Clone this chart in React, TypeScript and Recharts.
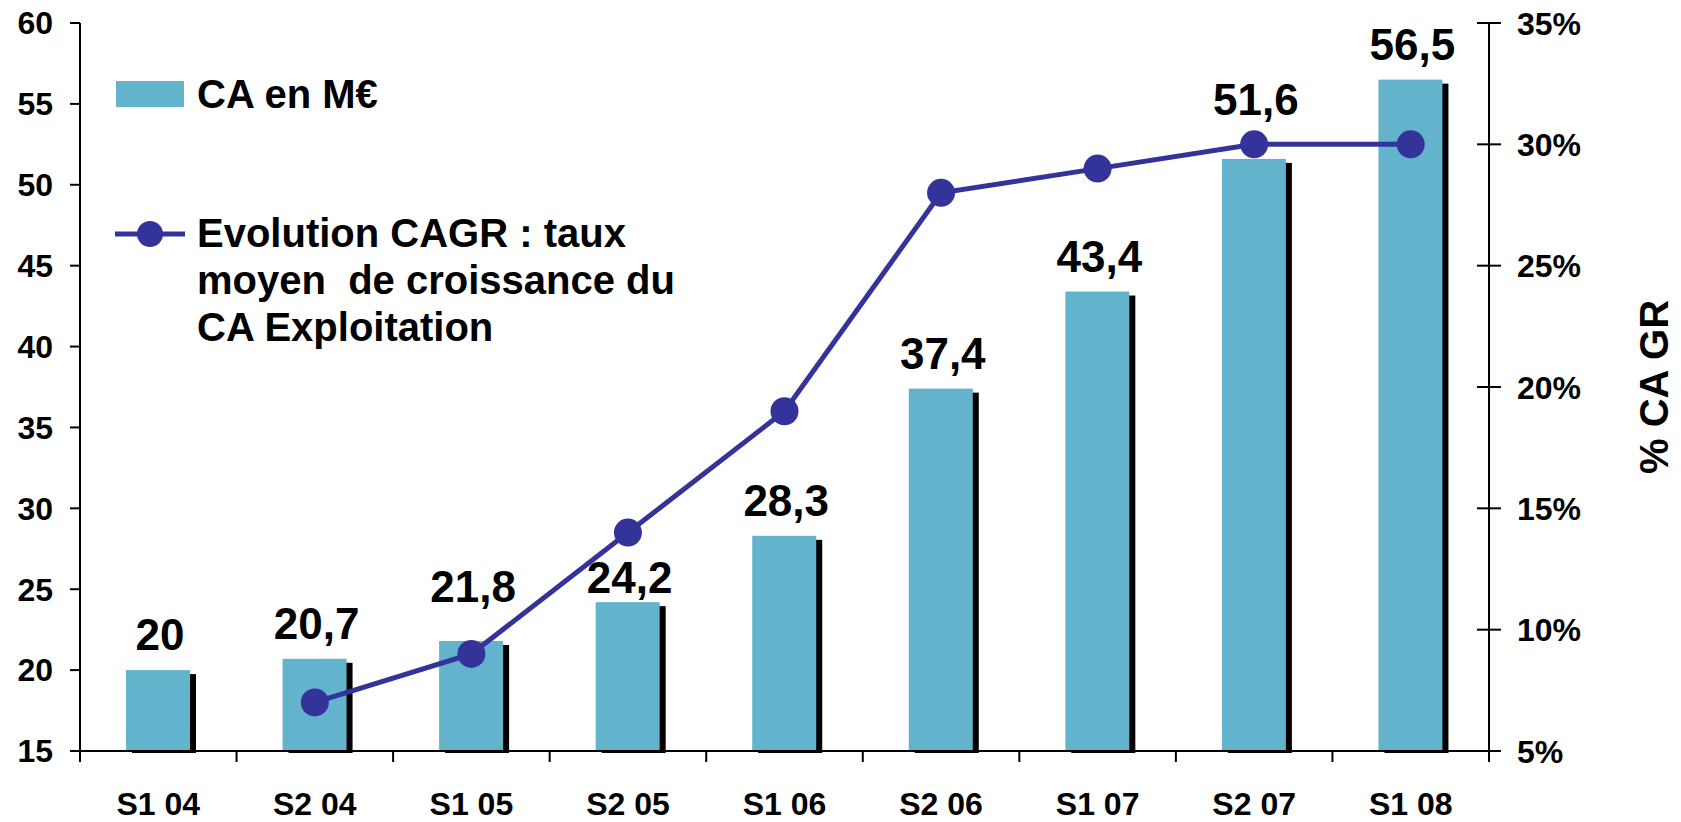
import React from 'react';
import { ComposedChart, Bar, Line, XAxis, YAxis, LabelList, Legend } from 'recharts';

const categories = ['S1 04', 'S2 04', 'S1 05', 'S2 05', 'S1 06', 'S2 06', 'S1 07', 'S2 07', 'S1 08'];
const caValues = [20, 20.7, 21.8, 24.2, 28.3, 37.4, 43.4, 51.6, 56.5];
const cagrValues: (number | null)[] = [null, 7, 9, 14, 19, 28, 29, 30, 30];
const leftTicks = [15, 20, 25, 30, 35, 40, 45, 50, 55, 60];
const rightTicks = [5, 10, 15, 20, 25, 30, 35];

const chartData = categories.map((name, i) => ({ name, ca: caValues[i], cagr: cagrValues[i] }));

const W = 1681;
const H = 822;
const LEFT_W = 80;
const RIGHT_W = 192;
const X_AXIS_H = 71;
const PLOT_RIGHT = W - RIGHT_W;
const PLOT_BOTTOM = H - X_AXIS_H;
const BAND = (PLOT_RIGHT - LEFT_W) / categories.length;

const FONT = '"Liberation Sans", Arial, sans-serif';
const BAR_COLOR = '#63B3CC';
const LINE_COLOR = '#333399';

// labels the original moved by hand so they clear the line
const labelNudge: Record<number, number> = { 2: -19, 3: 11, 7: -24 };

const ShadowBar = (props: any) => {
  const { x, y, width, height, fill } = props;
  if (!height) return null;
  return (
    <g>
      <rect x={x + 6} y={y + 4} width={width} height={height - 2} fill="#000" />
      <rect x={x} y={y} width={width} height={height} fill={fill} />
    </g>
  );
};

const BarValue = (props: any) => {
  const { x, y, width, value, index } = props;
  const shift = labelNudge[index] || 0;
  return (
    <text
      x={x + width / 2 + 2}
      y={y - 20 + shift}
      textAnchor="middle"
      fontSize={44}
      fontWeight={700}
      fill="#000"
      fontFamily={FONT}
    >
      {String(value).replace('.', ',')}
    </text>
  );
};

const BottomTick = (props: any) => {
  const { x, payload, index } = props;
  const left = x - BAND / 2;
  return (
    <g>
      <line x1={left} x2={left} y1={PLOT_BOTTOM} y2={PLOT_BOTTOM + 11} stroke="#000" strokeWidth={2} />
      {index === categories.length - 1 && (
        <line x1={x + BAND / 2} x2={x + BAND / 2} y1={PLOT_BOTTOM} y2={PLOT_BOTTOM + 11} stroke="#000" strokeWidth={2} />
      )}
      <text x={x} y={PLOT_BOTTOM + 64} textAnchor="middle" fontSize={32} fontWeight={700} fill="#000" fontFamily={FONT}>
        {payload.value}
      </text>
    </g>
  );
};

const RightTick = (props: any) => {
  const { y, payload } = props;
  return (
    <g>
      <line x1={PLOT_RIGHT - 12} x2={PLOT_RIGHT + 12} y1={y} y2={y} stroke="#000" strokeWidth={2} />
      <text x={PLOT_RIGHT + 28} y={y} dy="0.36em" textAnchor="start" fontSize={32} fontWeight={700} fill="#000" fontFamily={FONT}>
        {payload.value}%
      </text>
    </g>
  );
};

const LegendBox = () => (
  <svg width={700} height={360} style={{ display: 'block' }}>
    <rect x={116} y={81} width={68} height={26} fill={BAR_COLOR} />
    <text x={197} y={108} fontSize={40} fontWeight={700} fill="#000" fontFamily={FONT}>CA en M€</text>
    <line x1={115} x2={185} y1={234} y2={234} stroke={LINE_COLOR} strokeWidth={5} />
    <circle cx={150} cy={234} r={13} fill={LINE_COLOR} />
    <text fontSize={40} fontWeight={700} fill="#000" fontFamily={FONT} style={{ whiteSpace: 'pre' }}>
      <tspan x={197} y={247}>Evolution CAGR : taux</tspan>
      <tspan x={197} y={294}>moyen  de croissance du</tspan>
      <tspan x={197} y={341}>CA Exploitation</tspan>
    </text>
  </svg>
);

const App = () => {
  return (
    <div style={{ position: 'absolute', left: 0, top: 0, background: '#fff' }}>
      <ComposedChart width={W} height={H} data={chartData} margin={{ top: 23, right: 0, bottom: 0, left: 0 }}>
        <XAxis
          dataKey="name"
          height={X_AXIS_H}
          interval={0}
          tickLine={false}
          axisLine={{ stroke: '#000', strokeWidth: 2 }}
          tick={<BottomTick />}
        />
        <YAxis
          yAxisId="left"
          width={LEFT_W}
          domain={[15, 60]}
          ticks={leftTicks}
          interval={0}
          tickSize={10}
          tickMargin={17}
          axisLine={{ stroke: '#000', strokeWidth: 2 }}
          tickLine={{ stroke: '#000', strokeWidth: 2 }}
          tick={{ fontSize: 32, fontWeight: 700, fill: '#000', fontFamily: FONT }}
        />
        <YAxis
          yAxisId="right"
          orientation="right"
          width={RIGHT_W}
          domain={[5, 35]}
          ticks={rightTicks}
          interval={0}
          tickLine={false}
          axisLine={{ stroke: '#000', strokeWidth: 2 }}
          tick={<RightTick />}
          label={{
            value: '% CA GR',
            angle: -90,
            position: 'center',
            dx: 69,
            style: { fontSize: 40, fontWeight: 700, fill: '#000', fontFamily: FONT },
          }}
        />
        <Legend
          layout="horizontal"
          verticalAlign="middle"
          align="center"
          wrapperStyle={{ top: 0, left: 0, width: 700, height: 360 }}
          content={() => <LegendBox />}
        />
        <Bar yAxisId="left" dataKey="ca" barSize={64} fill={BAR_COLOR} shape={<ShadowBar />} isAnimationActive={false}>
          <LabelList dataKey="ca" content={<BarValue />} />
        </Bar>
        <Line
          yAxisId="right"
          dataKey="cagr"
          stroke={LINE_COLOR}
          strokeWidth={5}
          dot={{ r: 14, fill: LINE_COLOR, stroke: 'none' }}
          activeDot={false}
          isAnimationActive={false}
        />
      </ComposedChart>
    </div>
  );
};

export default App;
